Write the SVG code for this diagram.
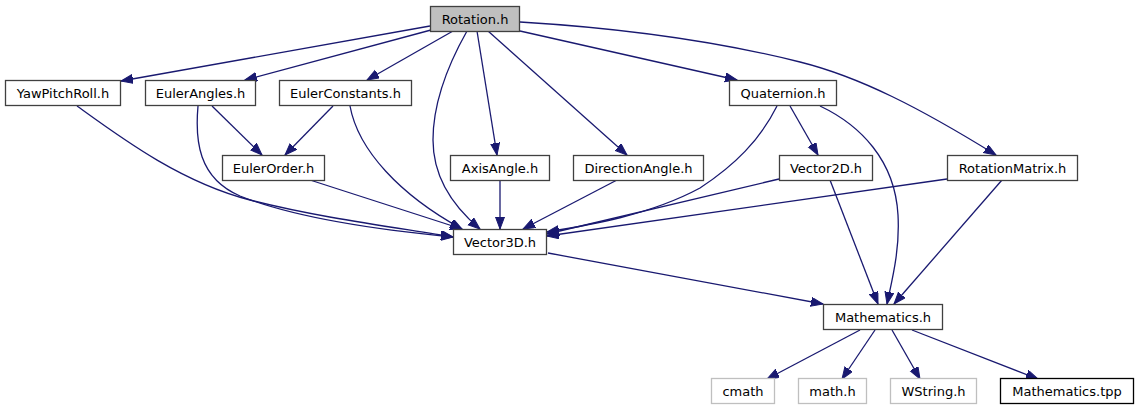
<svg xmlns="http://www.w3.org/2000/svg" width="1139" height="411" viewBox="0 0 1139 411">
<style>
.n rect{fill:#ffffff;stroke:#404040;stroke-width:1.3}
.n.root rect{fill:#bfbfbf}
.n.ext rect{stroke:#bfbfbf}
.n.blk rect{stroke:#000000}
.n text{font-family:"DejaVu Sans",sans-serif;font-size:13px;text-anchor:middle;fill:#000000}
#edges path{fill:none;stroke:midnightblue;stroke-width:1.3;marker-end:url(#ah)}
</style>
<defs>
<marker id="ah" markerUnits="userSpaceOnUse" markerWidth="13" markerHeight="10" refX="12" refY="4.5" orient="auto">
<path d="M0,0 L12,4.5 L0,9 z" fill="midnightblue" stroke="midnightblue" stroke-width="1"/>
</marker>
</defs>
<rect width="1139" height="411" fill="#ffffff"/>
<g id="edges">
<path d="M430,26 L121,81"/>
<path d="M431,30 L245,80"/>
<path d="M453,31 L367,80"/>
<path d="M467,31 C445,70 433,105 433,140 C433,180 455,208 480,229"/>
<path d="M477,31 L497,155"/>
<path d="M488,31 L627,155"/>
<path d="M520,31 L737,80"/>
<path d="M520,22 C620,28 720,42 800,62 C860,77 920,108 996,155"/>
<path d="M77,106 C120,137 180,182 250,200 C320,218 400,228 453,237"/>
<path d="M198,106 C195,140 198,178 240,196 C300,220 400,232 453,237"/>
<path d="M212,106 L262,155"/>
<path d="M333,106 L285,155"/>
<path d="M350,106 C358,150 400,195 462,229"/>
<path d="M310,180 L462,229"/>
<path d="M500,180 L500,229"/>
<path d="M617,180 L523,229"/>
<path d="M777,106 C760,140 735,165 700,188 C650,215 590,225 547,232"/>
<path d="M790,106 L818,155"/>
<path d="M820,106 C860,125 895,160 898,215 C900,250 892,280 887,304"/>
<path d="M830,180 L878,304"/>
<path d="M779,179 L547,234"/>
<path d="M947,179 L547,236"/>
<path d="M1002,180 L894,304"/>
<path d="M548,253 L823,304"/>
<path d="M860,330 L767,379"/>
<path d="M875,330 L842,379"/>
<path d="M892,330 L920,379"/>
<path d="M912,330 L1038,379"/>
</g>
<g id="n-rotation" class="n root"><rect x="430.5" y="6.5" width="89" height="25"/><text x="475" y="23.5">Rotation.h</text></g>
<g id="n-yawpitchroll" class="n"><rect x="5.5" y="80.5" width="115" height="25"/><text x="63" y="97.5">YawPitchRoll.h</text></g>
<g id="n-eulerangles" class="n"><rect x="145.5" y="80.5" width="110" height="25"/><text x="200.5" y="97.5">EulerAngles.h</text></g>
<g id="n-eulerconstants" class="n"><rect x="279.5" y="80.5" width="132" height="25"/><text x="345.5" y="97.5">EulerConstants.h</text></g>
<g id="n-quaternion" class="n"><rect x="729.5" y="80.5" width="107" height="25"/><text x="783" y="97.5">Quaternion.h</text></g>
<g id="n-eulerorder" class="n"><rect x="222.5" y="155.5" width="102" height="25"/><text x="273.5" y="172.5">EulerOrder.h</text></g>
<g id="n-axisangle" class="n"><rect x="450.5" y="155.5" width="99" height="25"/><text x="500" y="172.5">AxisAngle.h</text></g>
<g id="n-directionangle" class="n"><rect x="573.5" y="155.5" width="130" height="25"/><text x="638.5" y="172.5">DirectionAngle.h</text></g>
<g id="n-vector2d" class="n"><rect x="779.5" y="155.5" width="93" height="25"/><text x="826" y="172.5">Vector2D.h</text></g>
<g id="n-rotationmatrix" class="n"><rect x="947.5" y="155.5" width="130" height="25"/><text x="1012.5" y="172.5">RotationMatrix.h</text></g>
<g id="n-vector3d" class="n"><rect x="453.5" y="229.5" width="93" height="25"/><text x="500" y="246.5">Vector3D.h</text></g>
<g id="n-mathematics" class="n"><rect x="823.5" y="304.5" width="119" height="25"/><text x="883" y="321.5">Mathematics.h</text></g>
<g id="n-cmath" class="n ext"><rect x="711.5" y="378.5" width="63" height="25"/><text x="743" y="395.5">cmath</text></g>
<g id="n-mathh" class="n ext"><rect x="798.5" y="378.5" width="68" height="25"/><text x="832.5" y="395.5">math.h</text></g>
<g id="n-wstring" class="n ext"><rect x="890.5" y="378.5" width="86" height="25"/><text x="933.5" y="395.5">WString.h</text></g>
<g id="n-mathtpp" class="n blk"><rect x="1000.5" y="378.5" width="133" height="25"/><text x="1067" y="395.5">Mathematics.tpp</text></g>
</svg>
